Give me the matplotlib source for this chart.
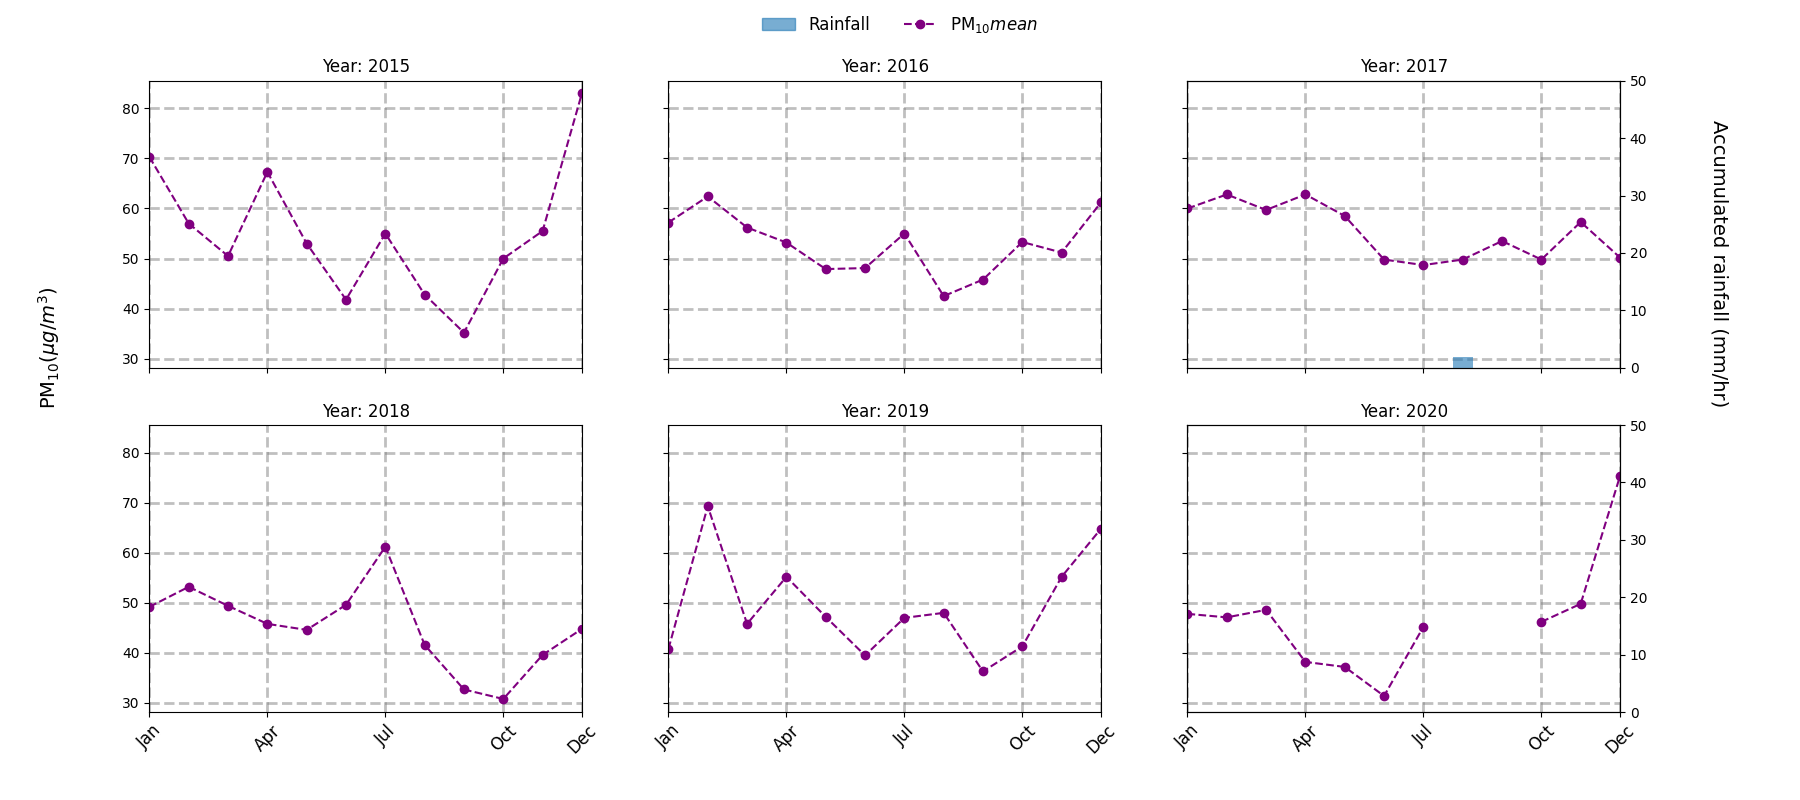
import numpy as np
import matplotlib.pyplot as plt
from matplotlib.patches import Patch
from matplotlib.lines import Line2D

years = [2015, 2016, 2017, 2018, 2019, 2020]
months = np.arange(1, 13)
pm10 = {
    2015: [70.3, 57, 50.5, 67.3, 53, 41.8, 55, 42.8, 35.2, 50, 55.5, 83],
    2016: [57.2, 62.4, 56.2, 53.2, 47.9, 48.1, 55, 42.5, 45.8, 53.3, 51.2, 61.2],
    2017: [60, 62.8, 59.7, 62.8, 58.5, 49.8, 48.7, 49.8, 53.5, 49.8, 57.3, 50.2],
    2018: [49.2, 53.2, 49.4, 45.8, 44.6, 49.6, 61.2, 41.6, 32.7, 30.8, 39.6, 44.8],
    2019: [40.8, 69.3, 45.8, 55.2, 47.2, 39.5, 47, 48, 36.3, 41.3, 55.2, 64.8],
    2020: [47.8, 47.1, 48.6, 38.2, 37.2, 31.4, 45.2, np.nan, np.nan, 46.2, 49.8, 75.3],
}
rain_month = [8]
rain_2017 = [1.8]
tick_pos = [1, 4, 7, 10, 12]
tick_lab = ["Jan", "Apr", "Jul", "Oct", "Dec"]

fig, axes = plt.subplots(2, 3, figsize=(18, 8), sharey=True)
plt.subplots_adjust(left=0.083, right=0.9, top=0.899, bottom=0.11, wspace=0.2, hspace=0.2)

for ax, yr in zip(axes.flat, years):
    ax.plot(months, pm10[yr], "--o", color="purple")
    ax.set_title(f"Year: {yr}", fontsize=12)
    ax.set_xlim(1, 12)
    ax.set_ylim(28.2, 85.5)
    ax.set_yticks([30, 40, 50, 60, 70, 80])
    ax.set_xticks(tick_pos)
    ax.grid(True, linestyle="--", linewidth=2, color="gray", alpha=0.5)
    if ax in axes[1]:
        ax.set_xticklabels(tick_lab, rotation=45, fontsize=12)
    else:
        ax.set_xticklabels([])

for i, ax in enumerate(axes[:, 2]):
    tw = ax.twinx()
    tw.set_ylim(0, 50)
    if i == 0:
        tw.bar(rain_month, rain_2017, width=0.5, color="tab:blue", alpha=0.6)

fig.text(0.027, 0.565, r"PM$_{10}$($\mu g/m^3$)", rotation=90, va="center", ha="center", fontsize=14)
fig.text(0.955, 0.67, "Accumulated rainfall (mm/hr)", rotation=270, va="center", ha="center", fontsize=14)

handles = [Patch(color="tab:blue", alpha=0.6, label="Rainfall"),
           Line2D([], [], color="purple", linestyle="--", marker="o", label=r"PM$_{10} mean$")]
fig.legend(handles=handles, loc="upper center", ncol=2, frameon=False, fontsize=12,
           bbox_to_anchor=(0.5, 1.0))

fig.savefig("out.png", dpi=100)
